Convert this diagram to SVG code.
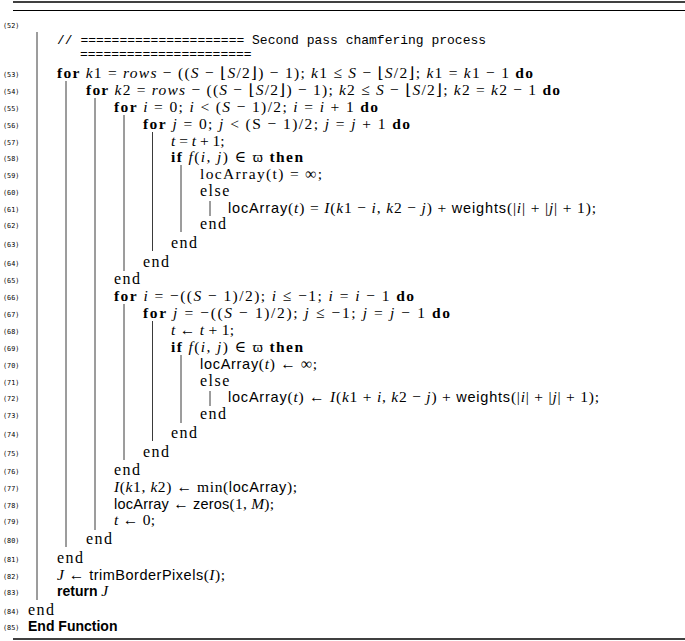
<svg xmlns="http://www.w3.org/2000/svg" width="685" height="641" viewBox="0 0 685 641">
<style>
.t{font-family:"Liberation Serif","DejaVu Serif",serif;font-size:15.5px;fill:#000}
.n{font-family:"DejaVu Sans Mono","Liberation Mono",monospace;font-size:6.8px;fill:#000}
.m{font-family:"Liberation Mono","DejaVu Sans Mono",monospace;font-size:13px;fill:#000}
.i{font-style:italic}
.b{font-weight:bold}
.e{letter-spacing:1.5px;font-size:16px}
.s{font-family:"Liberation Sans","DejaVu Sans",sans-serif;font-size:14.5px}
.sb{font-family:"Liberation Sans","DejaVu Sans",sans-serif;font-size:14px;font-weight:bold}
.bar{stroke:#3a3a3a;stroke-width:1;fill:none}
.rule{stroke:#000;fill:none}
</style>
<rect width="685" height="641" fill="#fff"/>
<g id="rules">
<line class="rule" x1="13" y1="2" x2="685" y2="2" stroke-width="1.6"/>
<line class="rule" x1="13" y1="10.5" x2="685" y2="10.5" stroke-width="1.1"/>
<line class="rule" x1="13" y1="639" x2="685" y2="639" stroke-width="1.6"/>
</g>
<g id="bars">
<line class="bar" x1="37" y1="32" x2="37" y2="600"/>
<line class="bar" x1="66" y1="81" x2="66" y2="547"/>
<line class="bar" x1="95" y1="98" x2="95" y2="530"/>
<line class="bar" x1="124" y1="115" x2="124" y2="271"/>
<line class="bar" x1="152.5" y1="132" x2="152.5" y2="251"/>
<line class="bar" x1="181" y1="165" x2="181" y2="232"/>
<line class="bar" x1="210" y1="201" x2="210" y2="216"/>
<line class="bar" x1="124" y1="304" x2="124" y2="460"/>
<line class="bar" x1="152.5" y1="321" x2="152.5" y2="441"/>
<line class="bar" x1="181" y1="355" x2="181" y2="423"/>
<line class="bar" x1="210" y1="391" x2="210" y2="406"/>
</g>
<g id="linenumbers">
<text class="n" x="3" y="28">(52)</text>
<text class="n" x="3" y="77">(53)</text>
<text class="n" x="3" y="94">(54)</text>
<text class="n" x="3" y="111">(55)</text>
<text class="n" x="3" y="128">(56)</text>
<text class="n" x="3" y="144.5">(57)</text>
<text class="n" x="3" y="161">(58)</text>
<text class="n" x="3" y="178">(59)</text>
<text class="n" x="3" y="195">(60)</text>
<text class="n" x="3" y="211.5">(61)</text>
<text class="n" x="3" y="228">(62)</text>
<text class="n" x="3" y="247">(63)</text>
<text class="n" x="3" y="266">(64)</text>
<text class="n" x="3" y="283">(65)</text>
<text class="n" x="3" y="300">(66)</text>
<text class="n" x="3" y="317">(67)</text>
<text class="n" x="3" y="334">(68)</text>
<text class="n" x="3" y="351">(69)</text>
<text class="n" x="3" y="368">(70)</text>
<text class="n" x="3" y="384.5">(71)</text>
<text class="n" x="3" y="401">(72)</text>
<text class="n" x="3" y="418">(73)</text>
<text class="n" x="3" y="437">(74)</text>
<text class="n" x="3" y="456">(75)</text>
<text class="n" x="3" y="474">(76)</text>
<text class="n" x="3" y="491">(77)</text>
<text class="n" x="3" y="507.5">(78)</text>
<text class="n" x="3" y="524">(79)</text>
<text class="n" x="3" y="543">(80)</text>
<text class="n" x="3" y="562">(81)</text>
<text class="n" x="3" y="579">(82)</text>
<text class="n" x="3" y="595">(83)</text>
<text class="n" x="3" y="614">(84)</text>
<text class="n" x="3" y="630">(85)</text>
</g>
<g id="code">
<text class="m" x="57" y="44">// ===================== Second pass chamfering process</text>
<text class="m" x="80" y="58">======================</text>
<text class="t" x="57" y="78" textLength="476" lengthAdjust="spacing"><tspan class="b">for</tspan> <tspan class="i">k</tspan>1 = <tspan class="i">rows</tspan> − ((<tspan class="i">S</tspan> − ⌊<tspan class="i">S</tspan>/2⌋) − 1);  <tspan class="i">k</tspan>1 ≤ <tspan class="i">S</tspan> − ⌊<tspan class="i">S</tspan>/2⌋;  <tspan class="i">k</tspan>1 = <tspan class="i">k</tspan>1 − 1 <tspan class="b">do</tspan></text>
<text class="t" x="86" y="95" textLength="474" lengthAdjust="spacing"><tspan class="b">for</tspan> <tspan class="i">k</tspan>2 = <tspan class="i">rows</tspan> − ((<tspan class="i">S</tspan> − ⌊<tspan class="i">S</tspan>/2⌋) − 1);  <tspan class="i">k</tspan>2 ≤ <tspan class="i">S</tspan> − ⌊<tspan class="i">S</tspan>/2⌋;  <tspan class="i">k</tspan>2 = <tspan class="i">k</tspan>2 − 1 <tspan class="b">do</tspan></text>
<text class="t" x="114" y="112" textLength="264" lengthAdjust="spacing"><tspan class="b">for</tspan> <tspan class="i">i</tspan> = 0;  <tspan class="i">i</tspan> &lt; (<tspan class="i">S</tspan> − 1)/2;  <tspan class="i">i</tspan> = <tspan class="i">i</tspan> + 1 <tspan class="b">do</tspan></text>
<text class="t" x="143" y="129" textLength="267" lengthAdjust="spacing"><tspan class="b">for</tspan> <tspan class="i">j</tspan> = 0;  <tspan class="i">j</tspan> &lt; (S − 1)/2;  <tspan class="i">j</tspan> = <tspan class="i">j</tspan> + 1 <tspan class="b">do</tspan></text>
<text class="t" x="171" y="145.5"><tspan class="i">t</tspan> = <tspan class="i">t</tspan> + 1;</text>
<text class="t" x="171" y="162" textLength="132" lengthAdjust="spacing"><tspan class="b">if</tspan> <tspan class="i">f</tspan>(<tspan class="i">i</tspan>, <tspan class="i">j</tspan>) ∈ ϖ <tspan class="b">then</tspan></text>
<text class="t" x="200" y="179" textLength="122" lengthAdjust="spacing">locArray(t) = ∞;</text>
<text class="t" x="200" y="196"><tspan class="e">else</tspan></text>
<text class="t" x="228" y="212.5" textLength="368" lengthAdjust="spacing"><tspan class="s">locArray</tspan>(<tspan class="i">t</tspan>) = <tspan class="i">I</tspan>(<tspan class="i">k</tspan>1 − <tspan class="i">i</tspan>, <tspan class="i">k</tspan>2 − <tspan class="i">j</tspan>) + <tspan class="s">weights</tspan>(|<tspan class="i">i</tspan>| + |<tspan class="i">j</tspan>| + 1);</text>
<text class="t" x="200" y="229"><tspan class="e">end</tspan></text>
<text class="t" x="171" y="248"><tspan class="e">end</tspan></text>
<text class="t" x="143" y="267"><tspan class="e">end</tspan></text>
<text class="t" x="114" y="284"><tspan class="e">end</tspan></text>
<text class="t" x="114" y="301" textLength="300" lengthAdjust="spacing"><tspan class="b">for</tspan> <tspan class="i">i</tspan> = −((<tspan class="i">S</tspan> − 1)/2);  <tspan class="i">i</tspan> ≤ −1;  <tspan class="i">i</tspan> = <tspan class="i">i</tspan> − 1 <tspan class="b">do</tspan></text>
<text class="t" x="143" y="318" textLength="307" lengthAdjust="spacing"><tspan class="b">for</tspan> <tspan class="i">j</tspan> = −((<tspan class="i">S</tspan> − 1)/2);  <tspan class="i">j</tspan> ≤ −1;  <tspan class="i">j</tspan> = <tspan class="i">j</tspan> − 1 <tspan class="b">do</tspan></text>
<text class="t" x="171" y="335" textLength="63" lengthAdjust="spacing"><tspan class="i">t</tspan> ← <tspan class="i">t</tspan> + 1;</text>
<text class="t" x="171" y="352" textLength="132" lengthAdjust="spacing"><tspan class="b">if</tspan> <tspan class="i">f</tspan>(<tspan class="i">i</tspan>, <tspan class="i">j</tspan>) ∈ ϖ <tspan class="b">then</tspan></text>
<text class="t" x="200" y="369" textLength="117" lengthAdjust="spacing"><tspan class="s">locArray</tspan>(<tspan class="i">t</tspan>) ← ∞;</text>
<text class="t" x="200" y="385.5"><tspan class="e">else</tspan></text>
<text class="t" x="228" y="402" textLength="371" lengthAdjust="spacing"><tspan class="s">locArray</tspan>(<tspan class="i">t</tspan>) ← <tspan class="i">I</tspan>(<tspan class="i">k</tspan>1 + <tspan class="i">i</tspan>, <tspan class="i">k</tspan>2 − <tspan class="i">j</tspan>) + <tspan class="s">weights</tspan>(|<tspan class="i">i</tspan>| + |<tspan class="i">j</tspan>| + 1);</text>
<text class="t" x="200" y="419"><tspan class="e">end</tspan></text>
<text class="t" x="171" y="438"><tspan class="e">end</tspan></text>
<text class="t" x="143" y="457"><tspan class="e">end</tspan></text>
<text class="t" x="114" y="475"><tspan class="e">end</tspan></text>
<text class="t" x="114" y="492" textLength="183" lengthAdjust="spacing"><tspan class="i">I</tspan>(<tspan class="i">k</tspan>1, <tspan class="i">k</tspan>2) ← min(<tspan class="s">locArray</tspan>);</text>
<text class="t" x="114" y="508.5" textLength="160" lengthAdjust="spacing"><tspan class="s">locArray</tspan> ← <tspan class="s">zeros</tspan>(1, <tspan class="i">M</tspan>);</text>
<text class="t" x="114" y="525" textLength="41" lengthAdjust="spacing"><tspan class="i">t</tspan> ← 0;</text>
<text class="t" x="86" y="544"><tspan class="e">end</tspan></text>
<text class="t" x="57" y="563"><tspan class="e">end</tspan></text>
<text class="t" x="57" y="580" textLength="168" lengthAdjust="spacing"><tspan class="i">J</tspan> ← <tspan class="s">trimBorderPixels</tspan>(<tspan class="i">I</tspan>);</text>
<text class="t" x="57" y="596"><tspan class="sb">return</tspan> <tspan class="i">J</tspan></text>
<text class="t" x="28" y="615"><tspan class="e">end</tspan></text>
<text class="t" x="28" y="631"><tspan class="sb">End Function</tspan></text>
</g>
</svg>
